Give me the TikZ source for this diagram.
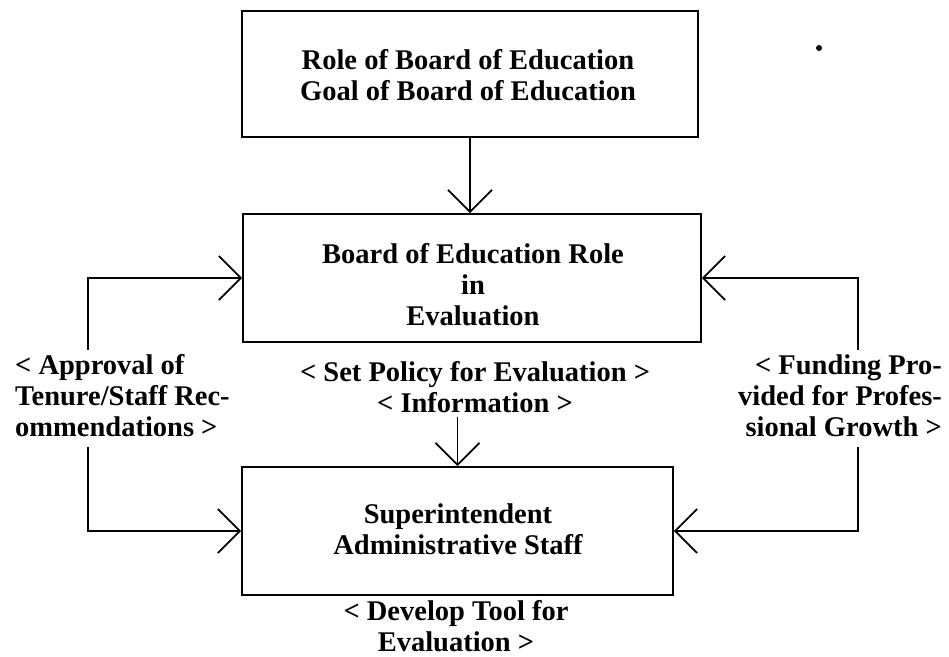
\documentclass[tikz,border=0pt]{standalone}
\usepackage{fontspec}
\setmainfont{Liberation Serif}
\usetikzlibrary{arrows.meta}
\begin{document}
\begin{tikzpicture}[x=1pt,y=-1pt,
  box/.style={draw, line width=1.8pt, inner sep=0pt},
  txt/.style={font=\fontsize{28.5}{31}\selectfont\bfseries, align=center, inner sep=4pt},
  arr/.style={line width=1.8pt, -{Straight Barb[length=22pt,width=44pt]}},
  conn/.style={line width=1.8pt}]
\useasboundingbox (0,0) rectangle (949,656);
% boxes
\node[box, minimum width=456pt, minimum height=126pt] (top) at (470,74) {};
\node[box, minimum width=458pt, minimum height=128pt] (mid) at (472,278) {};
\node[box, minimum width=431pt, minimum height=128pt] (bot) at (457.5,531) {};
% box texts
\node[txt] (toptxt) at (468,75.5) {Role of Board of Education\\Goal of Board of Education};
\node[txt] (midtxt) at (473,284.5) {Board of Education Role\\in\\Evaluation};
\node[txt] (bottxt) at (458,529) {Superintendent\\Administrative Staff};
% labels
\node[txt] (policy) at (475,387) {< Set Policy for Evaluation >\\< Information >};
\node[txt, align=left, anchor=west, inner sep=0pt] (appr) at (15,396) {< Approval of\\Tenure/Staff Rec-\\ommendations >};
\node[txt, align=right, anchor=east, inner sep=0pt] (fund) at (942,396) {< Funding Pro-\\vided for Profes-\\sional Growth >};
\node[txt] (develop) at (456,626) {< Develop Tool for\\Evaluation >};
% stray dot
\node[circle, fill, inner sep=0pt, minimum size=6pt] (dot) at (819,48) {};
% connector guide coordinates
\coordinate (lx) at (88,0);
\coordinate (rx) at (858,0);
% connectors
\draw[arr] ([yshift=5pt]appr.north -| lx) |- (mid.west);
\draw[arr] ([yshift=-10pt]appr.south -| lx) |- (bot.west);
\draw[arr] ([yshift=5pt]fund.north -| rx) |- (mid.east);
\draw[arr] ([yshift=-10pt]fund.south -| rx) |- (bot.east);
\draw[arr] (top.south) -- (top.south |- mid.north);
\draw[arr] (policy.south -| bot.north) -- (bot.north);
\end{tikzpicture}
\end{document}
